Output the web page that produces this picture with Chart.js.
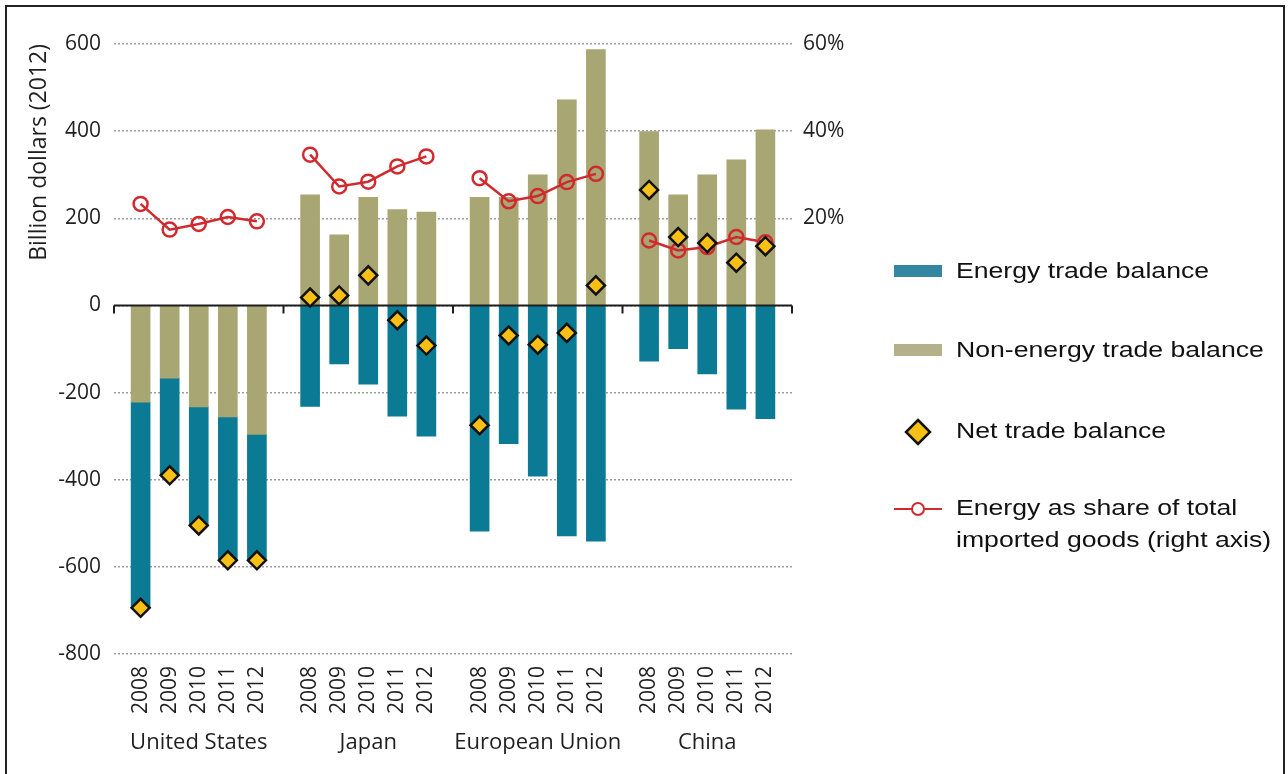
<!DOCTYPE html>
<html>
<head>
<meta charset="utf-8">
<script src="https://cdn.jsdelivr.net/npm/chart.js@4.4.1/dist/chart.umd.min.js"></script>
<style>
  html, body { margin: 0; padding: 0; background: #fff; overflow: hidden; }
  #wrap { position: relative; width: 1288px; height: 774px; overflow: hidden; }
  #frame { position: absolute; left: 5px; top: 5px; width: 1276px; height: 800px; border: 2px solid #222; pointer-events: none; }
</style>
</head>
<body>
<div id="wrap">
  <canvas id="myChart" width="1288" height="774"></canvas>
  <div id="frame"></div>
</div>
<script>
const years = ['2008', '2009', '2010', '2011', '2012'];
const countries = ['United States', 'Japan', 'European Union', 'China'];

// billion dollars (2012), one row per country, 2008..2012
const energyBalance = [
    [-472, -223, -272, -329, -289],
    [-232, -134, -181, -254, -300],
    [-518, -317, -392, -529, -541],
    [-128, -99, -157, -238, -260]
];
const nonEnergyBalance = [
    [-222, -167, -233, -256, -296],
    [254, 162, 248, 220, 214],
    [248, 248, 300, 472, 587],
    [399, 254, 300, 334, 403]
];
const netBalance = [
    [-694, -390, -505, -585, -585],
    [18, 23, 69, -34, -92],
    [-275, -69, -90, -63, 46],
    [265, 157, 143, 98, 136]
];
// energy as % of total imported goods (right axis)
const energyShare = [
    [23.3, 17.4, 18.7, 20.3, 19.3],
    [34.6, 27.3, 28.4, 31.9, 34.2],
    [29.2, 23.9, 25.1, 28.3, 30.2],
    [14.9, 12.6, 13.4, 15.7, 14.5]
];

const legendLabels = ['Energy trade balance', 'Non-energy trade balance', 'Net trade balance',
    ['Energy as share of total', 'imported goods (right axis)']];

const TEAL = '#0B7A94';
const OLIVE = '#A8A673';
const RED = '#D02A2E';
const GOLD = '#F8BF14';

// x layout: each country takes GROUP slots (5 bars + gap)
const GROUP = 5.83;
const xOf = (g, i) => g * GROUP + i;
const xMin = 2 - GROUP / 2;
const xMax = 3 * GROUP + 2 + GROUP / 2;

function barPoints(rows) {
    return countries.flatMap((c, g) => years.map((yr, i) => ({x: xOf(g, i), y: rows[g][i]})));
}
function linePoints(rows) {
    const pts = [];
    countries.forEach((c, g) => {
        if (g > 0) pts.push({x: xOf(g, -1), y: null});
        years.forEach((yr, i) => pts.push({x: xOf(g, i), y: rows[g][i]}));
    });
    return pts;
}
const tickPositions = countries.flatMap((c, g) => years.map((yr, i) => xOf(g, i)));

const zeroLine = {
    id: 'zeroLine',
    afterDatasetDraw(chart, args) {
        if (args.index !== 1) return;
        const ctx = chart.ctx;
        const xs = chart.scales.x;
        const y0 = chart.scales.y.getPixelForValue(0);
        ctx.save();
        ctx.strokeStyle = '#1e1e1e';
        ctx.lineWidth = 2;
        ctx.beginPath();
        ctx.moveTo(xs.left, y0);
        ctx.lineTo(xs.right, y0);
        for (let g = 0; g <= countries.length; g++) {
            const px = xs.getPixelForValue(xMin + g * GROUP);
            ctx.moveTo(px, y0);
            ctx.lineTo(px, y0 + 8);
        }
        ctx.stroke();
        ctx.restore();
    }
};

function wideText(ctx, text, x, y) {
    ctx.save();
    ctx.translate(x, y);
    ctx.scale(1.21, 1);
    ctx.fillText(text, 0, 0);
    ctx.restore();
}

const sideLegend = {
    id: 'sideLegend',
    afterDraw(chart) {
        const ctx = chart.ctx;
        ctx.save();
        ctx.fillStyle = '#3387A2';
        ctx.fillRect(894, 265, 48, 12);
        ctx.fillStyle = '#B3B08A';
        ctx.fillRect(894, 344, 48, 12);

        ctx.beginPath();
        ctx.moveTo(918, 420);
        ctx.lineTo(930, 432);
        ctx.lineTo(918, 444);
        ctx.lineTo(906, 432);
        ctx.closePath();
        ctx.fillStyle = GOLD;
        ctx.fill();
        ctx.strokeStyle = '#111';
        ctx.lineWidth = 2.5;
        ctx.stroke();

        ctx.strokeStyle = RED;
        ctx.lineWidth = 2;
        ctx.beginPath();
        ctx.moveTo(894, 509);
        ctx.lineTo(942, 509);
        ctx.stroke();
        ctx.beginPath();
        ctx.arc(918, 509, 6, 0, Math.PI * 2);
        ctx.fillStyle = '#fff';
        ctx.fill();
        ctx.stroke();

        ctx.fillStyle = '#111';
        ctx.font = '22px "Liberation Sans", Arial, sans-serif';
        ctx.textBaseline = 'middle';
        wideText(ctx, legendLabels[0], 956, 272);
        wideText(ctx, legendLabels[1], 956, 351);
        wideText(ctx, legendLabels[2], 956, 432);
        wideText(ctx, legendLabels[3][0], 956, 509);
        wideText(ctx, legendLabels[3][1], 956, 541);
        ctx.restore();
    }
};

Chart.defaults.font.family = '"Open Sans", sans-serif';
Chart.defaults.color = '#1f1f1f';

const ctx = document.getElementById('myChart').getContext('2d');

const myChart = new Chart(ctx, {
    type: 'bar',
    data: {
        datasets: [{
            label: 'Energy trade balance',
            data: barPoints(energyBalance),
            backgroundColor: TEAL,
            barThickness: 19,
            order: 3
        }, {
            label: 'Non-energy trade balance',
            data: barPoints(nonEnergyBalance),
            backgroundColor: OLIVE,
            barThickness: 19,
            order: 2
        }, {
            type: 'line',
            label: 'Energy as share of total imported goods (right axis)',
            data: linePoints(energyShare),
            yAxisID: 'y1',
            borderColor: RED,
            borderWidth: 2.5,
            pointRadius: 7,
            pointBorderWidth: 2.5,
            pointBackgroundColor: 'rgba(255,255,255,0)',
            pointBorderColor: RED,
            spanGaps: false,
            order: 1
        }, {
            type: 'line',
            label: 'Net trade balance',
            data: barPoints(netBalance),
            showLine: false,
            pointStyle: 'rectRot',
            pointRadius: 9,
            pointBorderWidth: 2.5,
            pointBackgroundColor: GOLD,
            pointBorderColor: '#111',
            order: 0
        }]
    },
    options: {
        responsive: false,
        animation: false,
        layout: {padding: {top: 44, right: 436, bottom: 0, left: 0}},
        plugins: {legend: {display: false}, tooltip: {enabled: false}},
        scales: {
            x: {
                type: 'linear',
                position: 'bottom',
                weight: 0,
                offset: false,
                min: xMin,
                max: xMax,
                stacked: true,
                grid: {display: false, drawTicks: false},
                border: {display: false},
                afterBuildTicks: scale => { scale.ticks = tickPositions.map(v => ({value: v})); },
                ticks: {
                    autoSkip: false,
                    minRotation: 90,
                    maxRotation: 90,
                    padding: 12,
                    font: {size: 21},
                    callback: (v, i) => years[i % years.length]
                },
                afterFit: s => { s.height = 70; }
            },
            x2: {
                type: 'category',
                position: 'bottom',
                weight: 1,
                labels: countries,
                offset: true,
                grid: {display: false, drawTicks: false},
                border: {display: false},
                ticks: {padding: 6, autoSkip: false, minRotation: 0, maxRotation: 0, font: {size: 22}},
                afterFit: s => { s.height = 50; }
            },
            y: {
                min: -800,
                max: 600,
                stacked: true,
                grid: {color: '#9c9c9c', lineWidth: 1.5, drawTicks: false},
                border: {display: false, dash: [2, 2]},
                ticks: {stepSize: 200, padding: 13, font: {size: 21}},
                title: {
                    display: true,
                    text: 'Billion dollars (2012)',
                    align: 'end',
                    font: {size: 23},
                    padding: {top: 26}
                },
                afterFit: s => { s.width = 114; }
            },
            y1: {
                position: 'right',
                min: -80,
                max: 60,
                grid: {display: false, drawTicks: false},
                border: {display: false},
                ticks: {
                    stepSize: 20,
                    padding: 11,
                    font: {size: 21},
                    callback: v => v > 0 ? v + '%' : ''
                },
                afterFit: s => { s.width = 60; }
            }
        }
    },
    plugins: [zeroLine, sideLegend]
});
</script>
</body>
</html>
